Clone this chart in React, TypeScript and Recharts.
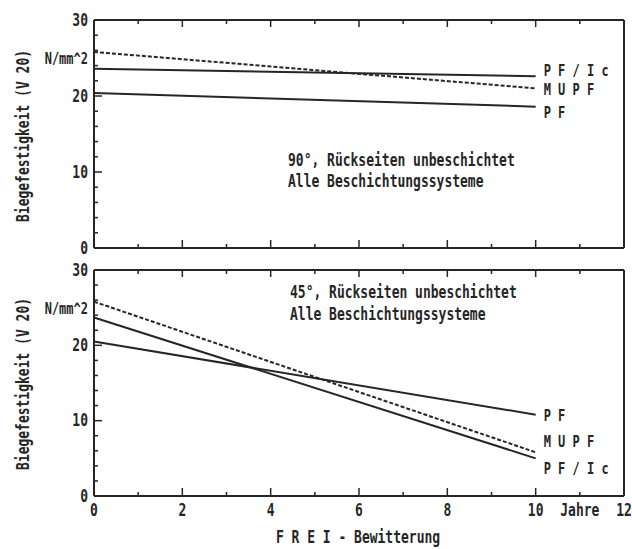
import { LineChart, Line, XAxis, YAxis } from 'recharts';

const years = [0, 10];

// 90° panel
const pf90 = [20.4, 18.6];
const pfIc90 = [23.6, 22.6];
const mupf90 = [25.8, 21.0];

// 45° panel
const pf45 = [20.5, 10.8];
const pfIc45 = [23.7, 5.0];
const mupf45 = [25.8, 5.8];

const yTicks = [0, 2, 4, 6, 8, 10, 12, 14, 16, 18, 20, 22, 24, 26, 28, 30];
const xTicks = [0, 1, 2, 3, 4, 5, 6, 7, 8, 9, 10, 11, 12];
const xTickLabels: Record<number, string> = { 0: '0', 2: '2', 4: '4', 6: '6', 8: '8', 10: '10', 11: 'Jahre', 12: '12' };

const INK = '#262626';
const FONT = "'DejaVu Sans Mono', 'Liberation Mono', monospace";

function T({ x, y, children, anchor = 'start', rotate = 0, size = 13 }: any) {
  return (
    <text
      transform={`translate(${x},${y}) rotate(${rotate}) scale(1,1.3)`}
      textAnchor={anchor}
      dominantBaseline="central"
      fontFamily={FONT}
      fontWeight="bold"
      fontSize={size}
      fill={INK}
    >
      {children}
    </text>
  );
}

const isMajorY = (v: number) => v % 10 === 0;

function LeftTick({ x, y, payload, showLabels }: any) {
  const v = payload.value;
  return (
    <g>
      <line x1={x} y1={y} x2={x + (isMajorY(v) ? 8 : 4)} y2={y} stroke={INK} strokeWidth={1.5} />
      {showLabels && isMajorY(v) && <T x={x - 6} y={y} anchor="end">{String(v)}</T>}
    </g>
  );
}

function RightTick({ x, y, payload }: any) {
  const v = payload.value;
  return <line x1={x} y1={y} x2={x - (isMajorY(v) ? 8 : 4)} y2={y} stroke={INK} strokeWidth={1.5} />;
}

function TopTick({ x, y, payload }: any) {
  const v = payload.value;
  return <line x1={x} y1={y} x2={x} y2={y + (v % 2 === 0 ? 7 : 4)} stroke={INK} strokeWidth={1.5} />;
}

function BottomTick({ x, y, payload, showLabels }: any) {
  const v = payload.value;
  return (
    <g>
      <line x1={x} y1={y} x2={x} y2={y - (v % 2 === 0 ? 8 : 4)} stroke={INK} strokeWidth={1.5} />
      {showLabels && xTickLabels[v] && <T x={x} y={y + 14} anchor="middle">{xTickLabels[v]}</T>}
    </g>
  );
}

const endLabel = (text: string, dy: number) => (props: any) => {
  if (props.index !== years.length - 1) return null;
  return <T key={text} x={props.x + 8} y={props.y + dy} size={12}>{text}</T>;
};

function Panel({ pf, pfIc, mupf, height, margin, offsets, showXLabels }: any) {
  const data = years.map((yr, i) => ({ yr, pf: pf[i], pfIc: pfIc[i], mupf: mupf[i] }));
  const axisStyle = { stroke: INK, strokeWidth: 2 };
  return (
    <LineChart width={632} height={height} data={data} margin={margin}>
      <XAxis
        dataKey="yr"
        type="number"
        domain={[0, 12]}
        ticks={xTicks}
        interval={0}
        height={1}
        tickSize={0}
        tickMargin={0}
        tickLine={false}
        axisLine={axisStyle}
        tick={<BottomTick showLabels={showXLabels} />}
      />
      <XAxis
        xAxisId="t"
        orientation="top"
        dataKey="yr"
        type="number"
        domain={[0, 12]}
        ticks={xTicks}
        interval={0}
        height={1}
        tickSize={0}
        tickMargin={0}
        tickLine={false}
        axisLine={axisStyle}
        tick={<TopTick />}
      />
      <YAxis
        type="number"
        domain={[0, 30]}
        ticks={yTicks}
        interval={0}
        width={1}
        tickSize={0}
        tickMargin={0}
        tickLine={false}
        axisLine={axisStyle}
        tick={<LeftTick showLabels />}
      />
      <YAxis
        yAxisId="r"
        orientation="right"
        type="number"
        domain={[0, 30]}
        ticks={yTicks}
        interval={0}
        width={1}
        tickSize={0}
        tickMargin={0}
        tickLine={false}
        axisLine={axisStyle}
        tick={<RightTick />}
      />
      <Line dataKey="pf" type="linear" stroke={INK} strokeWidth={2} dot={false} isAnimationActive={false} label={endLabel('P F', offsets.pf)} />
      <Line dataKey="pfIc" type="linear" stroke={INK} strokeWidth={2} dot={false} isAnimationActive={false} label={endLabel('P F / I c', offsets.pfIc)} />
      <Line dataKey="mupf" type="linear" stroke={INK} strokeWidth={2} strokeDasharray="4 2" dot={false} isAnimationActive={false} label={endLabel('M U P F', offsets.mupf)} />
    </LineChart>
  );
}

export default function App() {
  return (
    <div style={{ position: 'absolute', left: 0, top: 0, width: 632, height: 549, background: '#fff' }}>
      <div style={{ position: 'absolute', left: 0, top: 0 }}>
        <Panel
          pf={pf90}
          pfIc={pfIc90}
          mupf={mupf90}
          height={258}
          margin={{ top: 19, right: 7, bottom: 9, left: 93 }}
          offsets={{ pf: 6, pfIc: -6, mupf: 1 }}
          showXLabels={false}
        />
      </div>
      <div style={{ position: 'absolute', left: 0, top: 258 }}>
        <Panel
          pf={pf45}
          pfIc={pfIc45}
          mupf={mupf45}
          height={291}
          margin={{ top: 11, right: 7, bottom: 52, left: 93 }}
          offsets={{ pf: 1, pfIc: 10, mupf: -11 }}
          showXLabels
        />
      </div>
      <svg width={632} height={549} style={{ position: 'absolute', left: 0, top: 0, pointerEvents: 'none' }}>
        <T x={23} y={136} anchor="middle" rotate={-90}>Biegefestigkeit (V 20)</T>
        <T x={23} y={384} anchor="middle" rotate={-90}>Biegefestigkeit (V 20)</T>
        <T x={88} y={58} anchor="end" size={12}>N/mm^2</T>
        <T x={88} y={308} anchor="end" size={12}>N/mm^2</T>
        <T x={288} y={160}>90°, Rückseiten unbeschichtet</T>
        <T x={288} y={181}>Alle Beschichtungssysteme</T>
        <T x={290} y={292}>45°, Rückseiten unbeschichtet</T>
        <T x={290} y={314}>Alle Beschichtungssysteme</T>
        <T x={358} y={537} anchor="middle">F R E I - Bewitterung</T>
      </svg>
    </div>
  );
}
